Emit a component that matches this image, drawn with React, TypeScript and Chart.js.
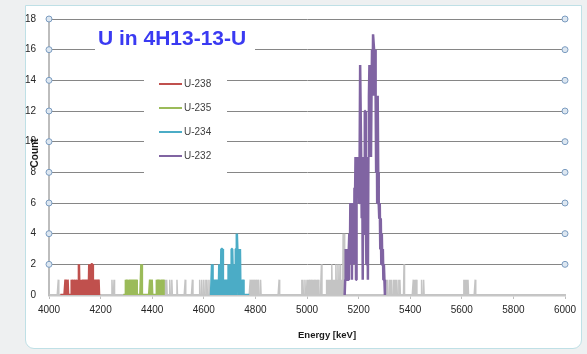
import React, { useEffect, useRef } from 'react';
import { Chart, registerables } from 'chart.js';

Chart.register(...registerables);

// ---------- data ----------
const xTickValues = [4000, 4200, 4400, 4600, 4800, 5000, 5200, 5400, 5600, 5800, 6000];
const yTickValues = [0, 2, 4, 6, 8, 10, 12, 14, 16, 18];
const channelKeV = 2;

const chartTitle = 'U in 4H13-13-U';
const xTitle = 'Energy [keV]';
const yTitle = 'Count';

const seriesNames = ['U-238', 'U-235', 'U-234', 'U-232'];
const seriesColors = ['#c0504d', '#9bbb59', '#4bacc6', '#8064a2'];
const totalName = 'Total';
const totalColor = '#c4c4c4';

// [energy keV, count] for non-empty channels; other channels in the window are 0
const u238Window = [4044, 4196];
const u238Peaks = [
  [4064, 1], [4072, 1], [4088, 1], [4096, 1], [4104, 1], [4112, 1], [4116, 2], [4124, 1],
  [4132, 1], [4140, 1], [4144, 1], [4148, 1], [4152, 1], [4156, 2], [4160, 1], [4164, 2],
  [4166, 2], [4168, 2], [4172, 1], [4176, 1], [4180, 1], [4184, 1], [4188, 1], [4192, 1],
];

const u235Window = [4288, 4444];
const u235Peaks = [
  [4298, 1], [4302, 1], [4306, 1], [4310, 1], [4314, 1], [4322, 1], [4326, 1], [4330, 1],
  [4334, 1], [4338, 1], [4358, 2], [4392, 1], [4398, 1], [4418, 1], [4422, 1], [4426, 1],
  [4430, 1], [4434, 1], [4438, 1], [4442, 1],
];

const u234Window = [4624, 4776];
const u234Peaks = [
  [4632, 2], [4636, 1], [4640, 1], [4644, 1], [4648, 1], [4652, 1], [4656, 1], [4660, 2],
  [4664, 1], [4668, 3], [4670, 3], [4672, 3], [4676, 1], [4680, 1], [4684, 1], [4688, 1],
  [4692, 1], [4696, 2], [4700, 2], [4704, 1], [4708, 3], [4710, 3], [4712, 3], [4716, 1],
  [4720, 2], [4724, 3], [4726, 3], [4728, 4], [4730, 3], [4732, 3], [4736, 3], [4740, 3],
  [4744, 1], [4748, 1], [4752, 1],
];

const u232Window = [5146, 5302];
const u232Peaks = [
  [5148, 1], [5150, 3], [5152, 1], [5154, 3], [5156, 2], [5158, 3], [5160, 1], [5162, 3], [5164, 4], [5166, 2],
  [5168, 6], [5170, 3], [5172, 6], [5174, 1], [5176, 6], [5178, 4], [5180, 6], [5182, 2], [5184, 7], [5186, 6],
  [5188, 9], [5190, 1], [5192, 9], [5194, 7], [5196, 9], [5198, 8], [5200, 9], [5202, 6], [5204, 9], [5206, 15],
  [5208, 15], [5210, 9], [5212, 5], [5214, 9], [5216, 1], [5218, 8], [5220, 9], [5222, 4], [5224, 12], [5226, 12],
  [5228, 8], [5230, 2], [5232, 9], [5234, 8], [5236, 1], [5238, 9], [5240, 13], [5242, 15], [5244, 13], [5246, 15],
  [5248, 9], [5250, 13], [5252, 16], [5254, 13], [5256, 17], [5258, 17], [5260, 16], [5262, 13], [5264, 16], [5266, 13],
  [5268, 8], [5270, 13], [5272, 6], [5274, 13], [5276, 8], [5278, 6], [5280, 5], [5282, 6], [5284, 3], [5286, 5],
  [5288, 2], [5290, 4], [5292, 2], [5294, 3], [5296, 1], [5298, 2], [5300, 1],
];

const totalWindow = [4000, 6000];
const totalPeaks = [
  [4036, 1], [4244, 1], [4252, 1], [4448, 1], [4452, 1], [4456, 1], [4468, 1], [4476, 1],
  [4496, 1], [4528, 1], [4556, 1], [4584, 1], [4592, 1], [4600, 1], [4608, 1], [4612, 1],
  [4620, 1], [4780, 1], [4788, 1], [4796, 1], [4804, 1], [4812, 1], [4820, 1], [4892, 1],
  [4980, 1], [4984, 1], [4992, 1], [5000, 1], [5004, 1], [5012, 1], [5020, 1], [5024, 1],
  [5032, 1], [5036, 1], [5044, 1], [5056, 2], [5076, 1], [5080, 1], [5084, 1], [5088, 1],
  [5092, 1], [5096, 2], [5100, 1], [5104, 1], [5108, 1], [5112, 2], [5116, 1], [5120, 2],
  [5124, 1], [5128, 2], [5132, 1], [5136, 1], [5140, 4], [5144, 4],
  [5304, 1], [5308, 1], [5312, 1], [5320, 1], [5324, 1], [5328, 1], [5336, 1], [5340, 1],
  [5344, 1], [5348, 1], [5356, 1], [5360, 1], [5376, 2], [5412, 1], [5416, 1], [5424, 1],
  [5444, 1], [5452, 1], [5608, 1], [5612, 1], [5616, 1], [5620, 1], [5624, 1], [5652, 1],
];

function spectrum(win: number[], peaks: number[][]) {
  const m = new Map<number, number>(peaks.map(([e, c]) => [e, c] as [number, number]));
  const pts: { x: number; y: number | null }[] = [];
  for (let e = win[0]; e <= win[1]; e += channelKeV) pts.push({ x: e, y: m.get(e) ?? 0 });
  return pts;
}

const FONT = "'Liberation Sans', Arial, sans-serif";

const decorPlugin = {
  id: 'decor',
  afterDraw(chart: any) {
    const { ctx, chartArea, scales } = chart;
    const ys = scales.y;
    ctx.save();
    // selection handles at gridline ends
    for (const v of yTickValues) {
      if (v === 0) continue;
      const py = ys.getPixelForValue(v);
      for (const px of [chartArea.left, chartArea.right]) {
        ctx.beginPath();
        ctx.arc(px, py, 3, 0, Math.PI * 2);
        ctx.fillStyle = '#dde7f1';
        ctx.fill();
        ctx.lineWidth = 1;
        ctx.strokeStyle = '#7b9cc0';
        ctx.stroke();
      }
    }
    // title
    ctx.fillStyle = '#ffffff';
    ctx.fillRect(95, 28, 160, 24);
    ctx.font = `bold 21px ${FONT}`;
    ctx.fillStyle = '#3a3af2';
    ctx.textAlign = 'left';
    ctx.textBaseline = 'alphabetic';
    ctx.fillText(chartTitle, 98, 45);

    // legend
    ctx.fillStyle = '#ffffff';
    ctx.fillRect(144, 66, 83, 110);
    ctx.font = `10px ${FONT}`;
    let row = 0;
    chart.data.datasets.forEach((ds: any) => {
      if (!ds.inLegend) return;
      const cy = 84 + row * 24;
      ctx.strokeStyle = ds.borderColor;
      ctx.lineWidth = 2;
      ctx.beginPath();
      ctx.moveTo(159, cy);
      ctx.lineTo(182, cy);
      ctx.stroke();
      ctx.fillStyle = '#404040';
      ctx.textBaseline = 'middle';
      ctx.fillText(ds.label, 184, cy + 0.5);
      row++;
    });

    // axis titles
    ctx.fillStyle = '#1a1a1a';
    ctx.font = `bold 9.5px ${FONT}`;
    ctx.textBaseline = 'alphabetic';
    ctx.textAlign = 'left';
    ctx.fillText(xTitle, 298, 337.5);

    ctx.translate(35, 153);
    ctx.rotate(-Math.PI / 2);
    ctx.textAlign = 'center';
    ctx.textBaseline = 'middle';
    ctx.font = `bold 10px ${FONT}`;
    ctx.fillText(yTitle, 0, 0);
    ctx.restore();
  },
};

export default function App() {
  const ref = useRef<HTMLCanvasElement | null>(null);

  useEffect(() => {
    if (!ref.current) return;
    Chart.defaults.font.family = FONT;

    const windows = [u238Window, u235Window, u234Window, u232Window];
    const peaks = [u238Peaks, u235Peaks, u234Peaks, u232Peaks];
    const datasets: any[] = seriesNames.map((name, i) => ({
      label: name,
      data: spectrum(windows[i], peaks[i]),
      borderColor: seriesColors[i],
      backgroundColor: seriesColors[i],
      borderWidth: 2.5,
      inLegend: true,
    }));
    const totalData = spectrum(totalWindow, totalPeaks).map((p) =>
      p.x > u232Window[0] && p.x < u232Window[1] ? { x: p.x, y: null } : p
    );
    datasets.push({
      label: totalName,
      data: totalData,
      borderColor: totalColor,
      backgroundColor: totalColor,
      borderWidth: 1.5,
      inLegend: false,
    });

    const chart = new Chart(ref.current, {
      type: 'line',
      data: { datasets },
      options: {
        animation: false,
        responsive: false,
        parsing: false as any,
        normalized: true,
        spanGaps: false,
        layout: { padding: { left: 0, right: 22, top: 11, bottom: 0 } },
        plugins: { legend: { display: false }, tooltip: { enabled: false }, title: { display: false } },
        elements: {
          point: { radius: 0, hoverRadius: 0 },
          line: { tension: 0, borderJoinStyle: 'bevel', borderCapStyle: 'butt', fill: false },
        },
        scales: {
          x: {
            type: 'linear',
            min: 4000,
            max: 6000,
            afterBuildTicks: (s: any) => {
              s.ticks = xTickValues.map((v) => ({ value: v }));
            },
            afterFit: (s: any) => {
              s.height = 59;
            },
            ticks: {
              callback: (v: any) => String(v),
              font: { size: 10 },
              color: '#262626',
              padding: 5,
              maxRotation: 0,
              autoSkip: false,
            },
            grid: { drawOnChartArea: false, drawTicks: true, tickLength: 4, color: '#bfbfbf', lineWidth: 1 },
            border: { display: true, color: '#c6c6c6', width: 2.5 },
          },
          y: {
            type: 'linear',
            min: 0,
            max: 18,
            afterBuildTicks: (s: any) => {
              s.ticks = yTickValues.map((v) => ({ value: v }));
            },
            afterFit: (s: any) => {
              s.width = 49;
            },
            ticks: { font: { size: 10 }, color: '#262626', padding: 13 },
            grid: {
              drawTicks: false,
              color: (c: any) => (c.tick && c.tick.value === 0 ? 'rgba(0,0,0,0)' : '#868686'),
              lineWidth: 1,
            },
            border: { display: true, color: '#bdbdbd', width: 2 },
          },
        },
      } as any,
      plugins: [decorPlugin],
    });
    return () => chart.destroy();
  }, []);

  return (
    <div style={{ position: 'fixed', left: 0, top: 0, width: 587, height: 354, background: '#eef0f1', overflow: 'hidden' }}>
      <div
        style={{
          position: 'absolute',
          left: 25,
          top: 5,
          width: 555,
          height: 342,
          background: '#ffffff',
          border: '1px solid #bfe0e6',
          borderRadius: '0 0 9px 9px',
        }}
      />
      <canvas
        ref={ref}
        width={587}
        height={354}
        style={{ position: 'absolute', left: 0, top: 0, width: 587, height: 354 }}
      />
    </div>
  );
}
